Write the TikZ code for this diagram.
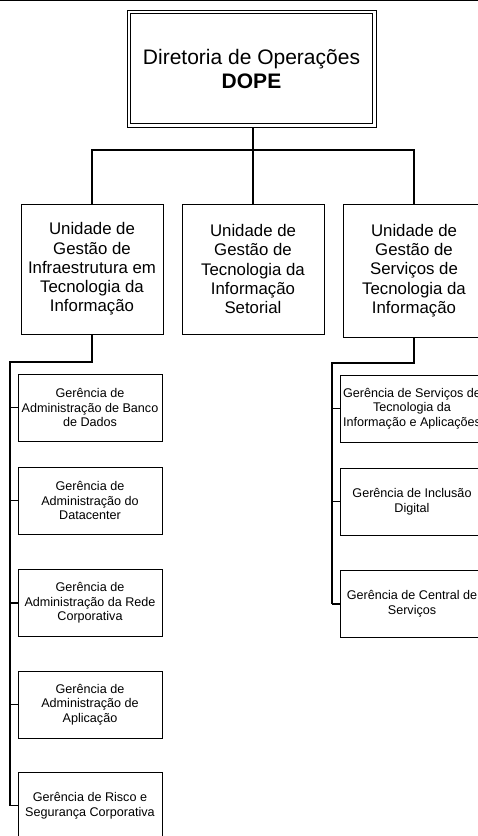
\documentclass[tikz,border=0pt]{standalone}
\usepackage{fontspec}
\setmainfont{Liberation Sans}
\begin{document}
\begin{tikzpicture}[x=1pt,y=-1pt,
  box/.style={draw=black,line width=1pt,align=center,inner sep=0pt,fill=white},
  topbox/.style={box,minimum width=249pt,minimum height=117pt,font=\fontsize{21}{24}\selectfont},
  unitbox/.style={box,minimum width=142pt,font=\fontsize{16.8}{19.2}\selectfont},
  subbox/.style={box,minimum width=144pt,minimum height=67pt,font=\fontsize{12.6}{14.6}\selectfont},
  conn/.style={draw=black,line width=1.4pt},
  bus/.style={draw=black,line width=2pt},
  tick/.style={draw=black,line width=1.3pt}]
\useasboundingbox (0,0) rectangle (478,836);
\clip (0,0) rectangle (478,836);
\draw[line width=1.5pt] (0,0.7) -- (478,0.7);

% top
\node[topbox] (top) at (251.5,68.5) {Diretoria de Operações\\\textbf{DOPE}};
\draw[line width=1pt] ([shift={(4pt,-4pt)}]top.north west) rectangle ([shift={(-4pt,4pt)}]top.south east);

% units
\node[unitbox,minimum height=130pt] (uL) at (92,269) {Unidade de\\Gestão de\\Infraestrutura em\\Tecnologia da\\Informação};
\node[unitbox,minimum height=130pt] (uM) at (253,269) {Unidade de\\Gestão de\\Tecnologia da\\Informação\\Setorial};
\node[unitbox,minimum height=133pt] (uR) at (414,270.5) {Unidade de\\Gestão de\\Serviços de\\Tecnologia da\\Informação};

\coordinate (hub) at (253,150);
\draw[conn] (top.south -| hub) -- (hub);
\draw[conn] (uL.north) |- (hub) -| (uR.north);
\draw[conn] (hub) -- (uM.north);

% left gerencias
\node[subbox] (gL1) at (90,407.5) {Gerência de\\Administração de Banco\\de Dados};
\node[subbox] (gL2) at (90,500.5) {Gerência de\\Administração do\\Datacenter};
\node[subbox] (gL3) at (90,603) {Gerência de\\Administração da Rede\\Corporativa};
\node[subbox] (gL4) at (90,704.5) {Gerência de\\Administração de\\Aplicação};
\node[subbox] (gL5) at (90,805.5) {Gerência de Risco e\\Segurança Corporativa};

\coordinate (lbus) at (10,362);
\draw[bus] (uL.south) |- (lbus) -- (lbus |- gL5.west);
\foreach \n in {gL1,gL2,gL3,gL4,gL5}
  \draw[tick] (lbus |- \n.west) -- (\n.west);

% right gerencias
\node[subbox] (gR1) at (412,408.5) {Gerência de Serviços de\\Tecnologia da\\Informação e Aplicações};
\node[subbox] (gR2) at (412,501.5) {Gerência de Inclusão\\Digital};
\node[subbox] (gR3) at (412,604) {Gerência de Central de\\Serviços};

\coordinate (rbus) at (332,363);
\draw[bus] (uR.south) |- (rbus) -- (rbus |- gR3.west);
\foreach \n in {gR1,gR2,gR3}
  \draw[tick] (rbus |- \n.west) -- (\n.west);
\end{tikzpicture}
\end{document}
